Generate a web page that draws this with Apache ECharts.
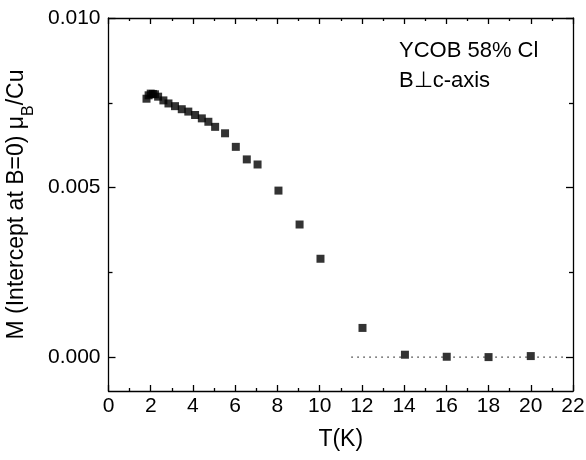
<!DOCTYPE html>
<html><head><meta charset="utf-8">
<script src="https://cdn.jsdelivr.net/npm/echarts@6/dist/echarts.min.js"></script>
<style>html,body{margin:0;padding:0;background:#fff}#c{width:586px;height:460px}</style>
</head><body><div id="c"></div>
<script>
var temps = [1.8, 1.9, 2.0, 2.1, 2.2, 2.35, 2.6, 2.84, 3.15, 3.47, 3.78, 4.1, 4.42, 4.73, 5.05, 5.52, 6.03, 6.55, 7.06, 8.05, 9.05, 10.04, 12.03, 14.04, 16.02, 18.0, 20.0];
var moments = [0.00762, 0.00772, 0.00777, 0.00776, 0.00775, 0.00768, 0.00757, 0.00748, 0.0074, 0.00731, 0.00724, 0.00714, 0.00704, 0.00694, 0.00679, 0.0066, 0.0062, 0.00583, 0.00568, 0.00491, 0.00391, 0.0029, 0.00086, 0.00007, 0.00001, 0.0, 0.00003];
var zeroLineT = [11.5, 21.65];
var zeroLineM = [0, 0];
var yMajorTicks = [0, 0.005, 0.010];
var yMinorTicks = [0.0025, 0.0075];
var annotation = ['YCOB 58% Cl', 'B\u22a5c-axis'];

var FONT = '"Liberation Sans", Arial, sans-serif';
var chart = echarts.init(document.getElementById('c'), null, {renderer: 'canvas'});
function xAx(pos, showLabel) {
  return {
    type: 'value', position: pos, min: 0, max: 22, interval: 2,
    axisLine: {show: true, onZero: false, lineStyle: {color: '#000', width: 1.3}},
    axisTick: {show: true, inside: true, length: 6, lineStyle: {color: '#000', width: 1.3}},
    minorTick: {show: true, splitNumber: 2, length: 3, lineStyle: {color: '#000', width: 1.3}},
    splitLine: {show: false},
    axisLabel: {show: showLabel, color: '#000', fontSize: 21, fontFamily: FONT, margin: 5,
      formatter: function (v) { return String(v); }},
    name: showLabel ? 'T(K)' : '', nameLocation: 'middle', nameGap: 37,
    nameTextStyle: {color: '#000', fontSize: 23, fontFamily: FONT}
  };
}
function yAx(pos, ticks, len, showLabel, showLine, name) {
  return {
    type: 'value', position: pos, min: -0.001, max: 0.010,
    axisLine: {show: showLine, onZero: false, lineStyle: {color: '#000', width: 1.3}},
    axisTick: {show: true, inside: true, length: len, customValues: ticks, lineStyle: {color: '#000', width: 1.3}},
    splitLine: {show: false},
    axisLabel: {show: showLabel, customValues: ticks, color: '#000', fontSize: 21, fontFamily: FONT, margin: 8,
      formatter: function (v) { return v.toFixed(3); }},
    name: name || '', nameLocation: 'middle', nameGap: 70,
    nameTextStyle: {color: '#000', fontSize: 23, fontFamily: FONT,
      rich: {sub: {fontSize: 16, fontFamily: FONT, color: '#000', verticalAlign: 'bottom', padding: [0, 0, -9, 0]}}}
  };
}
var scatterData = temps.map(function (t, i) { return [t, moments[i]]; });
var lineData = zeroLineT.map(function (t, i) { return [t, zeroLineM[i]]; });
chart.setOption({
  backgroundColor: '#fff',
  animation: false,
  grid: {left: 108.5, right: 13, top: 18, bottom: 69, containLabel: false, outerBoundsMode: 'none'},
  xAxis: [xAx('bottom', true), xAx('top', false)],
  yAxis: [
    yAx('left', yMajorTicks, 7, true, true, 'M (Intercept at B=0) \u03bc{sub|B}/Cu'),
    yAx('left', yMinorTicks, 4, false, false),
    yAx('right', yMajorTicks, 7, false, true),
    yAx('right', yMinorTicks, 4, false, false)
  ],
  series: [
    {type: 'line', data: lineData, xAxisIndex: 0, yAxisIndex: 0, symbol: 'none',
      lineStyle: {color: '#333', width: 1.2, type: [1.5, 4.5]}, silent: true},
    {type: 'scatter', data: scatterData, xAxisIndex: 0, yAxisIndex: 0, symbol: 'rect', symbolSize: 8,
      itemStyle: {color: '#000'}}
  ],
  graphic: [
    {type: 'text', left: 399, top: 40, style: {text: annotation[0], fill: '#000', font: '22px ' + FONT}},
    {type: 'text', left: 399, top: 70, style: {text: annotation[1], fill: '#000', font: '22px ' + FONT}}
  ]
});
</script></body></html>
